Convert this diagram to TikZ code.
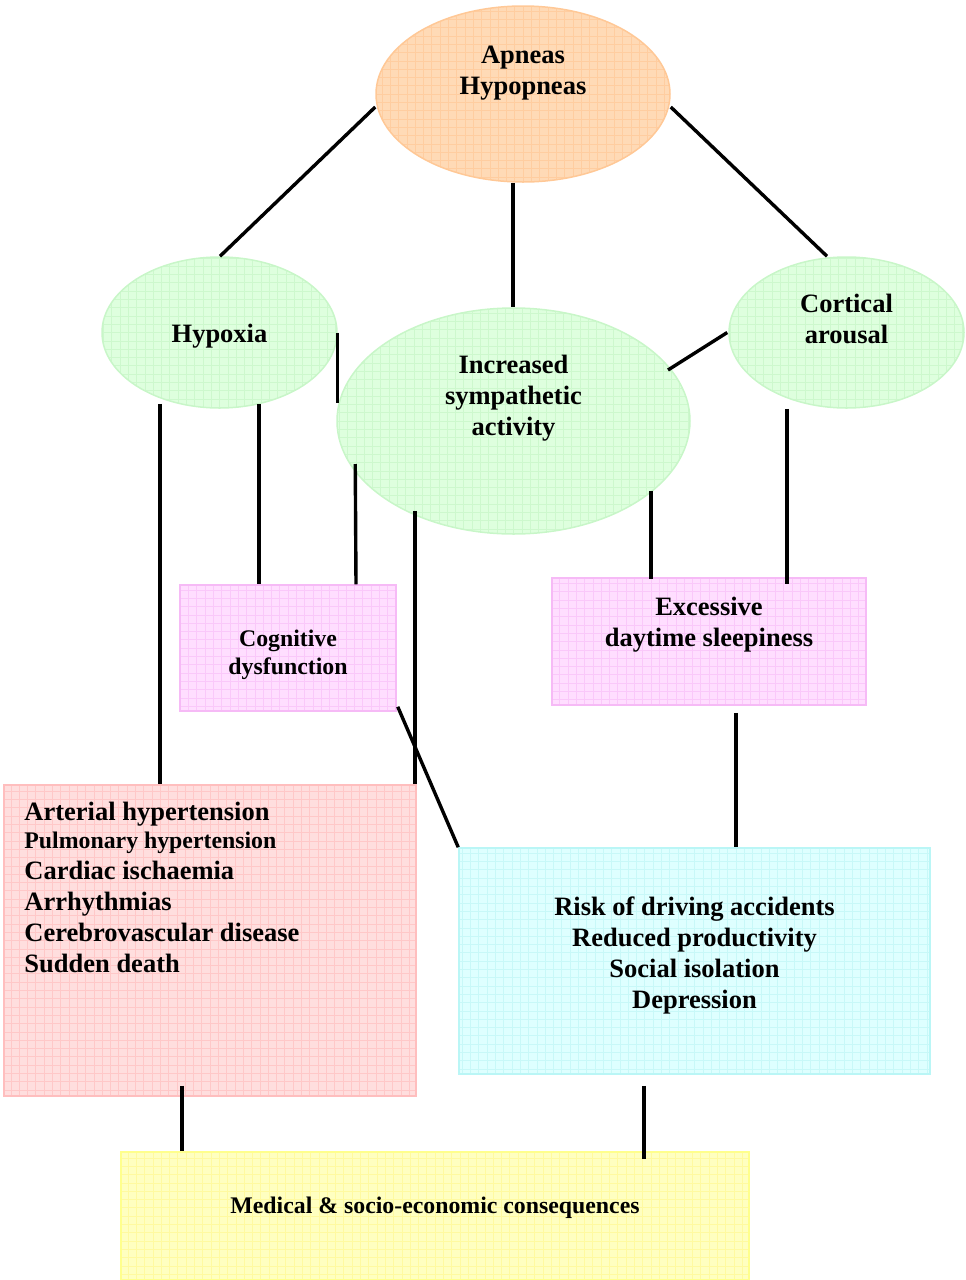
\documentclass[tikz,border=0pt]{standalone}
\usepackage{fontspec}
\setmainfont{Liberation Serif}
\usetikzlibrary{shapes.geometric,calc}

% colour scheme of the chart
\definecolor{orfill}{RGB}{255,218,182}
\definecolor{ordraw}{RGB}{255,200,150}
\definecolor{orgrid}{RGB}{255,205,160}
\definecolor{grfill}{RGB}{222,255,222}
\definecolor{grdraw}{RGB}{200,246,200}
\definecolor{grgrid}{RGB}{205,248,205}
\definecolor{pkfill}{RGB}{255,222,255}
\definecolor{pkdraw}{RGB}{246,186,246}
\definecolor{pkgrid}{RGB}{250,200,250}
\definecolor{rdfill}{RGB}{255,222,222}
\definecolor{rddraw}{RGB}{255,190,190}
\definecolor{rdgrid}{RGB}{255,200,200}
\definecolor{cyfill}{RGB}{222,255,255}
\definecolor{cydraw}{RGB}{186,246,246}
\definecolor{cygrid}{RGB}{200,248,248}
\definecolor{ylfill}{RGB}{255,255,192}
\definecolor{yldraw}{RGB}{255,255,140}
\definecolor{ylgrid}{RGB}{255,250,160}

\newcommand{\bigtxt}{\fontsize{26.5}{31}\selectfont\bfseries}
\newcommand{\smalltxt}{\fontsize{23.8}{28}\selectfont\bfseries}

\tikzset{
  gridded/.style={
    fill=#1fill, draw=#1draw, line width=1.5pt,
    path picture={\draw[#1grid, line width=0.6pt]
      (path picture bounding box.south west) grid[step=8.3pt]
      (path picture bounding box.north east);}},
  bubble/.style={ellipse, inner sep=0pt, gridded=#1},
  panel/.style={rectangle, inner sep=0pt, gridded=#1},
  caption/.style={align=center, font=\bigtxt, text=black},
  link/.style={line width=3.4pt, black},
}

\begin{document}
\begin{tikzpicture}[x=1pt,y=-1pt]
\useasboundingbox (0,0) rectangle (966,1280);

% ---- mechanisms ----
\node[bubble=or, minimum width=294pt, minimum height=176pt,
      label={[caption, yshift=21pt]center:Apneas\\Hypopneas}]
      (ap) at (523,94) {};
\node[bubble=gr, minimum width=235pt, minimum height=151pt,
      label={[caption, yshift=-4pt]center:Hypoxia}]
      (hx) at (219.5,332.5) {};
\node[bubble=gr, minimum width=353pt, minimum height=226pt,
      label={[caption, yshift=23pt]center:Increased\\sympathetic\\activity}]
      (sy) at (513.5,421) {};
\node[bubble=gr, minimum width=235pt, minimum height=151pt,
      label={[caption, yshift=14pt]center:Cortical\\arousal}]
      (ca) at (846.5,332.5) {};

% ---- symptoms ----
\node[panel=pk, minimum width=216pt, minimum height=126pt,
      label={[caption, font=\smalltxt, yshift=-7pt]center:Cognitive\\dysfunction}]
      (cd) at (288,648) {};
\node[panel=pk, minimum width=314pt, minimum height=127pt,
      label={[caption, yshift=17pt]center:Excessive\\daytime sleepiness}]
      (eds) at (709,641.5) {};

% ---- consequences ----
\node[panel=rd, minimum width=412pt, minimum height=311pt] (cv) at (210,940.5) {};
\node[anchor=north west, align=left, inner sep=0pt, text=black, font=\bigtxt]
      (cvtxt) at ($(cv.north west)+(21,18)$)
      {Arterial hypertension\\[-3pt]
       {\smalltxt Pulmonary hypertension}\\
       Cardiac ischaemia\\
       Arrhythmias\\
       Cerebrovascular disease\\
       Sudden death};
\node[panel=cy, minimum width=471pt, minimum height=226pt,
      label={[caption, yshift=6pt]center:Risk of driving accidents\\Reduced productivity\\Social isolation\\Depression}]
      (soc) at (694.5,961) {};
\node[panel=yl, minimum width=628pt, minimum height=128pt,
      label={[caption, font=\smalltxt, yshift=8pt]center:Medical \& socio-economic consequences}]
      (med) at (435,1216) {};

% ---- links ----
\draw[link] ($(ap.west)+(0,13)$) -- ($(hx.north)+(0.5,0)$);
\draw[link] ($(ap.east)+(0,13)$) -- ($(ca.north)+(-19.5,0)$);
\draw[link] ($(ap.south)+(-10,0)$) -- ($(sy.north)+(-0.5,0)$);
\draw[link] (hx.east) -- ($(hx.east)+(0,70)$);
\draw[link] ($(ca.west)+(-1,0)$) -- ($(sy.center)+(154.5,-51)$);
\draw[link] ($(hx.south)+(-59.5,-5)$) -- ($(cv.north)+(-50,0)$);
\draw[link] ($(hx.south)+(39.5,-5)$) -- ($(cd.north)+(-29,0)$);
\draw[link] ($(sy.west)+(19,43)$) -- ($(cd.north)+(68,0)$);
\draw[link] ($(sy.south)+(-98.5,-24)$) -- ($(cv.north)+(205,0)$);
\draw[link] ($(sy.south)+(137.5,-44)$) -- ($(eds.north)+(-58,2)$);
\draw[link] ($(ca.south)+(-59.5,0)$) -- ($(eds.north)+(78,7)$);
\draw[link] ($(cd.south east)+(1,-5)$) -- (soc.north west);
\draw[link] ($(eds.south)+(27,7)$) -- ($(soc.north)+(41.5,0)$);
\draw[link] ($(cv.south)+(-28,-11)$) -- ($(med.north)+(-253,0)$);
\draw[link] ($(soc.south)+(-50.5,11)$) -- ($(med.north)+(209,8)$);
\end{tikzpicture}
\end{document}
